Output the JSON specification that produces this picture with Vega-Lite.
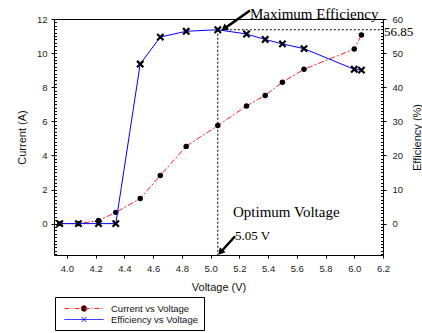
{
  "$schema": "https://vega.github.io/schema/vega-lite/v6.json",
  "width": 329,
  "height": 236,
  "autosize": {"type": "none"},
  "padding": {"left": 54, "top": 19, "right": 39, "bottom": 78},
  "config": {
    "view": {"stroke": "black", "strokeWidth": 1},
    "font": "Liberation Sans",
    "axis": {
      "labelFont": "Liberation Sans", "labelFontSize": 9.5, "labelColor": "#222",
      "titleFont": "Liberation Sans", "titleFontSize": 11, "titleFontWeight": "normal", "titleColor": "#111",
      "tickColor": "#000", "grid": false, "domain": false, "labelOverlap": false, "labelFlush": false
    }
  },
  "data": {"values": [
    {"v": 3.95, "current": 0, "efficiency": 0},
    {"v": 4.08, "current": 0, "efficiency": 0},
    {"v": 4.22, "current": 0.18, "efficiency": 0},
    {"v": 4.34, "current": 0.66, "efficiency": 0},
    {"v": 4.51, "current": 1.47, "efficiency": 46.8},
    {"v": 4.65, "current": 2.82, "efficiency": 54.7},
    {"v": 4.83, "current": 4.53, "efficiency": 56.4},
    {"v": 5.05, "current": 5.75, "efficiency": 56.85},
    {"v": 5.25, "current": 6.9, "efficiency": 55.6},
    {"v": 5.38, "current": 7.52, "efficiency": 54.0},
    {"v": 5.5, "current": 8.29, "efficiency": 52.7},
    {"v": 5.65, "current": 9.05, "efficiency": 51.3},
    {"v": 6.0, "current": 10.24, "efficiency": 45.25},
    {"v": 6.05, "current": 11.06, "efficiency": 45.0}
  ]},
  "layer": [
    {
      "layer": [
        {
          "mark": {"type": "line", "strokeWidth": 1, "strokeDash": [6, 2, 2, 2]},
          "encoding": {
            "x": {"field": "v", "type": "quantitative",
              "scale": {"domain": [3.91, 6.2], "nice": false, "zero": false},
              "axis": {"title": "Voltage (V)", "orient": "bottom", "tickCount": 12, "tickSize": 3, "format": ".1f",
                "labelPadding": 5, "titleBaseline": "middle", "titleY": 32}},
            "y": {"field": "current", "type": "quantitative",
              "scale": {"domain": [-1.84, 12], "nice": false, "zero": false},
              "axis": {"title": "Current (A)", "orient": "left", "tickCount": 7, "tickSize": 3, "format": "d",
                "labelPadding": 4, "titleBaseline": "middle", "titleX": -32}},
            "color": {"datum": "Current vs Voltage", "type": "nominal",
              "scale": {"domain": ["Current vs Voltage", "Efficiency vs Voltage"], "range": ["#ff2020", "#0000ff"]},
              "legend": {"orient": "none", "legendX": 1, "legendY": 278, "title": null,
                "strokeColor": "black", "fillColor": "white", "padding": 6,
                "labelFont": "Liberation Sans", "labelFontSize": 9.5, "labelColor": "#111",
                "symbolSize": 100, "labelOffset": 39, "rowPadding": -1,
                "encode": {"symbols": {"update": {
                  "shape": {"signal": "datum.value === 'Current vs Voltage' ? 'M-0.4,0H7.4M4.1,0A0.6,0.6 0 1 1 2.9,0A0.6,0.6 0 1 1 4.1,0' : 'M-0.4,0H7.4M3,-0.5L4,0.5M3,0.5L4,-0.5'"},
                  "strokeDash": {"signal": "datum.value === 'Current vs Voltage' ? [5,2,1,2] : [1,0]"},
                  "fill": {"value": "black"},
                  "strokeWidth": {"value": 1}
                }}}}}
          }
        },
        {
          "mark": {"type": "point", "filled": true, "shape": "circle", "size": 30, "color": "black", "opacity": 1},
          "encoding": {
            "x": {"field": "v", "type": "quantitative"},
            "y": {"field": "current", "type": "quantitative",
              "axis": {"title": null, "orient": "left", "tickCount": 70, "tickSize": 2.5, "offset": -2.5, "labels": false, "domain": false}}
          }
        }
      ],
      "resolve": {"axis": {"y": "independent"}}
    },
    {
      "layer": [
        {
          "mark": {"type": "line", "strokeWidth": 1},
          "encoding": {
            "x": {"field": "v", "type": "quantitative",
              "axis": {"title": null, "orient": "bottom", "tickCount": 115, "tickSize": 2.5, "offset": -2.5, "labels": false, "domain": false}},
            "y": {"field": "efficiency", "type": "quantitative",
              "scale": {"domain": [-9.2, 60], "nice": false, "zero": false},
              "axis": {"title": "Efficiency (%)", "orient": "right", "tickCount": 7, "tickSize": 3, "format": "d",
                "labelPadding": 6, "titleAngle": -90, "titleBaseline": "middle", "titleX": 34}},
            "color": {"datum": "Efficiency vs Voltage", "type": "nominal"}
          }
        },
        {
          "mark": {"type": "point", "shape": "M-1,-1L1,1M-1,1L1,-1", "size": 40, "color": "black", "strokeWidth": 2.2, "opacity": 1},
          "encoding": {
            "x": {"field": "v", "type": "quantitative", "axis": null},
            "y": {"field": "efficiency", "type": "quantitative",
              "axis": {"title": null, "orient": "right", "tickCount": 70, "tickSize": 2.5, "offset": -2.5, "labels": false, "domain": false}}
          }
        },
        {
          "data": {"values": [
            {"x": 5.05, "x2": 5.05, "y": 56.85, "y2": -9.2},
            {"x": 5.05, "x2": 6.2, "y": 56.85, "y2": 56.85}
          ]},
          "mark": {"type": "rule", "color": "black", "strokeWidth": 1, "strokeDash": [2, 2]},
          "encoding": {
            "x": {"field": "x", "type": "quantitative", "axis": null},
            "x2": {"field": "x2"},
            "y": {"field": "y", "type": "quantitative", "axis": null},
            "y2": {"field": "y2"}
          }
        },
        {
          "data": {"values": [
            {"x": 5.274, "x2": 5.093, "y": 62.5, "y2": 57.1},
            {"x": 5.17, "x2": 5.076, "y": -3.7, "y2": -8.1}
          ]},
          "mark": {"type": "rule", "color": "black", "strokeWidth": 2.5},
          "encoding": {
            "x": {"field": "x", "type": "quantitative", "axis": null},
            "x2": {"field": "x2"},
            "y": {"field": "y", "type": "quantitative", "axis": null},
            "y2": {"field": "y2"}
          }
        },
        {
          "data": {"values": [{"x": 5.1, "y": 57.4}]},
          "mark": {"type": "point", "shape": "triangle", "filled": true, "color": "black", "size": 60, "angle": 234, "opacity": 1},
          "encoding": {
            "x": {"field": "x", "type": "quantitative", "axis": null},
            "y": {"field": "y", "type": "quantitative", "axis": null}
          }
        },
        {
          "data": {"values": [{"x": 5.074, "y": -8.15}]},
          "mark": {"type": "point", "shape": "triangle", "filled": true, "color": "black", "size": 60, "angle": 222, "opacity": 1},
          "encoding": {
            "x": {"field": "x", "type": "quantitative", "axis": null},
            "y": {"field": "y", "type": "quantitative", "axis": null}
          }
        },
        {
          "data": {"values": [
            {"x": 5.274, "y": 60.06, "text": "Maximum Efficiency"},
            {"x": 5.156, "y": 1.8, "text": "Optimum Voltage"}
          ]},
          "mark": {"type": "text", "font": "Liberation Serif", "fontSize": 15, "align": "left", "baseline": "alphabetic", "color": "black"},
          "encoding": {
            "x": {"field": "x", "type": "quantitative", "axis": null},
            "y": {"field": "y", "type": "quantitative", "axis": null},
            "text": {"field": "text"}
          }
        },
        {
          "data": {"values": [{"x": 5.17, "y": -4.7, "text": "5.05 V"}]},
          "mark": {"type": "text", "font": "Liberation Serif", "fontSize": 13, "align": "left", "baseline": "alphabetic", "color": "black"},
          "encoding": {
            "x": {"field": "x", "type": "quantitative", "axis": null},
            "y": {"field": "y", "type": "quantitative", "axis": null},
            "text": {"field": "text"}
          }
        },
        {
          "data": {"values": [{"x": 6.2, "y": 56.85, "text": "56.85"}]},
          "mark": {"type": "text", "font": "Liberation Serif", "fontSize": 13, "align": "left", "baseline": "middle", "dx": 1, "dy": 2.5, "color": "black"},
          "encoding": {
            "x": {"field": "x", "type": "quantitative", "axis": null},
            "y": {"field": "y", "type": "quantitative", "axis": null},
            "text": {"field": "text"}
          }
        }
      ],
      "resolve": {"axis": {"y": "independent"}}
    }
  ],
  "resolve": {"scale": {"y": "independent"}, "axis": {"x": "independent"}}
}
